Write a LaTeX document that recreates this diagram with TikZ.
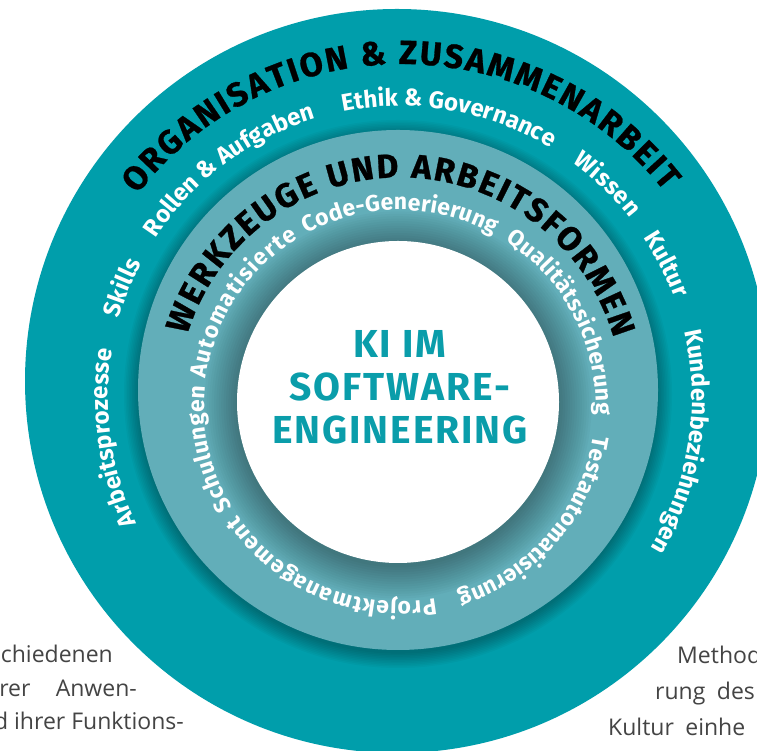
\documentclass[tikz,border=0pt]{standalone}
\usepackage{fontspec}
\setmainfont{Fira Sans}
\newfontfamily\bodyfont{Open Sans}
\newfontfamily\heavyfont{Fira Sans}[BoldFeatures={FakeBold=0.8}]
\newfontfamily\corefont{Fira Sans}[LetterSpace=5]
\usetikzlibrary{decorations.text}
\definecolor{outerteal}{HTML}{009EAB}
\definecolor{midteal}{HTML}{62AEB9}
\definecolor{centerteal}{HTML}{0A9DAA}
\definecolor{bodygray}{HTML}{444444}
\newcommand{\ttlfont}{\heavyfont\bfseries\fontsize{33.5}{33.5}\selectfont}
\newcommand{\itmfont}{\bfseries\fontsize{24}{24}\selectfont}
\newcommand{\inrfont}{\bfseries\fontsize{23}{23}\selectfont}
% #1 centre, #2 radius, #3 start angle, #4 end angle, #5 font, #6 colour, #7 text
\newcommand{\arctext}[7]{%
  \path[decorate, decoration={text along path, text={|#5|#7},
        text align={fit to path}, text color=#6}]
    (#1) ++(#3:#2pt) arc[start angle=#3, end angle=#4, radius=#2pt];}
\tikzset{bodytext/.style={font=\bodyfont\fontsize{23}{23}\selectfont, text=bodygray, inner sep=0pt}}
\begin{document}
\begin{tikzpicture}
\useasboundingbox (0pt,0pt) rectangle (757pt,751pt);
\clip (0pt,0pt) rectangle (757pt,751pt);
\fill[white] (0pt,0pt) rectangle (757pt,751pt);

% background text
\node[bodytext, anchor=base east] (l1) at (113pt,88pt) {chiedenen};
\node[bodytext, anchor=base east] (l2) at (137pt,54pt) {rer\hspace{1.1em}Anwen-};
\node[bodytext, anchor=base east] (l3) at (184pt,21pt) {d ihrer Funktions-};
\node[bodytext, anchor=base west] (r1) at (677pt,87pt) {Method};
\node[bodytext, anchor=base west] (r2) at (655pt,51pt) {rung\hspace{0.5em}des};
\node[bodytext, anchor=base west] (r3) at (608pt,15pt) {Kultur\hspace{0.5em}einhe};

% centres
\coordinate (outerC) at (397pt,370pt);
\coordinate (midC) at (398pt,361pt);
\coordinate (innerC) at (398pt,349pt);
\coordinate (otC) at (402pt,353pt);
\coordinate (oiC) at (400pt,353pt);
\coordinate (mtC) at (400pt,351pt);
\coordinate (miC) at (400pt,345pt);

% outer disc
\fill[outerteal] (outerC) circle[radius=372pt];
% shadow of middle disc
\foreach \k in {1,...,10}
  \fill[black, opacity=0.03] ([yshift=-4pt]midC) circle[radius={(258+\k*1.6)*1pt}];
% middle disc
\fill[midteal] (midC) circle[radius=260pt];
% shadow of inner disc
\foreach \k in {1,...,14}
  \fill[black, opacity=0.022] ([yshift=-3pt]innerC) circle[radius={(160+\k*2.4)*1pt}];
% inner disc
\fill[white] (innerC) circle[radius=161pt];

% centre title
\node[font=\corefont\bfseries\fontsize{39}{43}\selectfont, text=centerteal, align=center] (core) at (400pt,364pt)
  {KI IM\\SOFTWARE-\\ENGINEERING};

% ring titles
\arctext{otC}{334}{142.4}{38.2}{\ttlfont}{black}{ORGANISATION {\&} ZUSAMMENARBEIT}
\arctext{mtC}{222.5}{163.0}{16.2}{\ttlfont}{black}{WERKZEUGE UND ARBEITSFORMEN}

% outer ring items
\arctext{oiC}{292}{205.4}{170.5}{\itmfont}{white}{Arbeitsprozesse}
\arctext{oiC}{292}{164.2}{152.4}{\itmfont}{white}{Skills}
\arctext{oiC}{292}{146.8}{107.6}{\itmfont}{white}{Rollen {\&} Aufgaben}
\arctext{oiC}{292}{101.3}{60.2}{\itmfont}{white}{Ethik {\&} Governance}
\arctext{oiC}{292}{53.8}{38.1}{\itmfont}{white}{Wissen}
\arctext{oiC}{292}{33.4}{20.0}{\itmfont}{white}{Kultur}
\arctext{oiC}{292}{13.2}{-31.0}{\itmfont}{white}{Kundenbeziehungen}

% middle ring items
\arctext{miC}{196}{211.1}{174.3}{\inrfont}{white}{Schulungen}
\arctext{miC}{196}{172.0}{121.4}{\inrfont}{white}{Automatisierte}
\arctext{miC}{196}{118.5}{61.3}{\inrfont}{white}{Code-Generierung}
\arctext{miC}{196}{57.4}{-2.6}{\inrfont}{white}{Qualitätssicherung}
\arctext{miC}{196}{-8.7}{-72.8}{\inrfont}{white}{Testautomatisierung}
\arctext{miC}{196}{-79.6}{-146.0}{\inrfont}{white}{Projektmanagement}
\end{tikzpicture}
\end{document}
